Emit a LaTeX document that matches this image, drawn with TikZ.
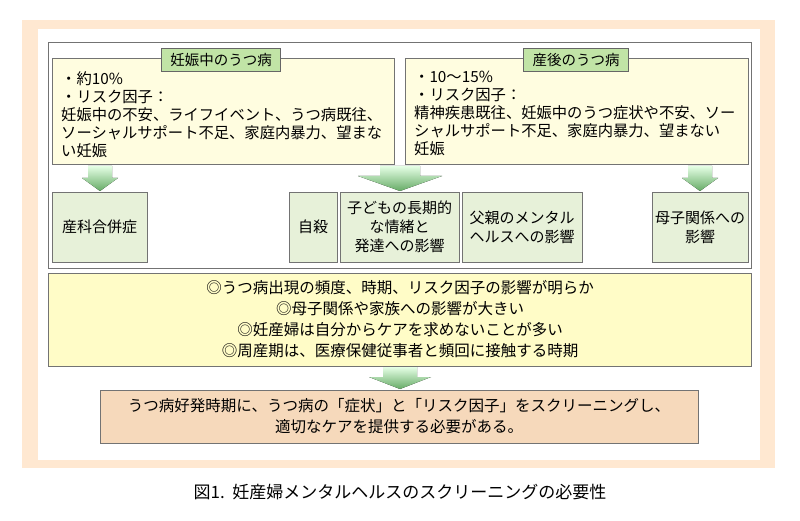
\documentclass[tikz,border=0pt]{standalone}
\usepackage{fontspec}
\setmainfont{Noto Sans CJK JP}
\begin{document}
\begin{tikzpicture}[x=1pt,y=-1pt,
  ylw/.style={draw=black!55,fill=yellow!12,line width=0.7pt},
  grn/.style={draw=black!55,fill=green!25!olive!15!white,line width=0.7pt},
  ttl/.style={draw=black!60,fill=green!40!olive!35!white,line width=0.7pt,font=\fontsize{14.5}{16}\selectfont,inner xsep=9pt,inner ysep=2pt,minimum height=23pt},
  txt/.style={font=\fontsize{15.3}{18}\selectfont,align=left,anchor=north west,inner sep=0pt},
  ctxt/.style={font=\fontsize{15}{19}\selectfont,align=center,inner sep=0pt},
  arr/.style={top color=green!10!white,bottom color=green!45!black!60,draw=none}]
\useasboundingbox (0,0) rectangle (800,521);
\fill[white] (0,0) rectangle (800,521);
\fill[orange!18!white] (22,20) rectangle (775,468);
\fill[white] (38,29) rectangle (760,460);
\draw[black!55,line width=0.7pt] (48,42) rectangle (751,268);
% top yellow boxes
\draw[ylw] (52,58) rectangle (394,164);
\draw[ylw] (405,58) rectangle (748,164);
\node[ttl] (t1) at (221,60) {妊娠中のうつ病};
\node[ttl] (t2) at (576,60) {産後のうつ病};
\node[txt] (l1) at (61,71) {・約10\%\\・リスク因子：\\妊娠中の不安、ライフイベント、うつ病既往、\\ソーシャルサポート不足、家庭内暴力、望まな\\い妊娠};
\node[txt] (r1) at (414,71) {・10〜15\%\\・リスク因子：\\精神疾患既往、妊娠中のうつ症状や不安、ソー\\シャルサポート不足、家庭内暴力、望まない\\妊娠};
% arrows
\fill[arr] (88,166) -- (112,166) -- (112,178) -- (118,178) -- (100,191) -- (82,178) -- (88,178) -- cycle;
\fill[arr] (380,166) -- (420,166) -- (420,176) -- (442,176) -- (400,191) -- (358,176) -- (380,176) -- cycle;
\fill[arr] (688,166) -- (712,166) -- (712,178) -- (718,178) -- (700,191) -- (682,178) -- (688,178) -- cycle;
% green boxes
\draw[grn] (52,192) rectangle (147,262); \node[ctxt] (a) at (99.5,227) {産科合併症};
\draw[grn] (289,192) rectangle (337,262); \node[ctxt] (b) at (313,227) {自殺};
\draw[grn] (340,192) rectangle (459,262); \node[ctxt] (c) at (399.5,227) {子どもの長期的\\な情緒と\\発達への影響};
\draw[grn] (462,192) rectangle (582,262); \node[ctxt] (d) at (522,227) {父親のメンタル\\ヘルスへの影響};
\draw[grn] (652,192) rectangle (748,262); \node[ctxt] (e) at (700,227) {母子関係への\\影響};
% middle
\draw[draw=black!55,fill=yellow!22,line width=0.7pt] (48,273) rectangle (751,366);
\node[ctxt,font=\fontsize{15.5}{21}\selectfont] (m) at (400,319.5) {◎うつ病出現の頻度、時期、リスク因子の影響が明らか\\◎母子関係や家族への影響が大きい\\◎妊産婦は自分からケアを求めないことが多い\\◎周産期は、医療保健従事者と頻回に接触する時期};
\fill[arr] (383,367) -- (417,367) -- (417,377) -- (431,377) -- (400,389) -- (369,377) -- (383,377) -- cycle;
\draw[draw=black!55,fill=orange!55!brown!30!white,line width=0.7pt] (100,390) rectangle (698,443);
\node[ctxt,font=\fontsize{15.5}{21}\selectfont] (s) at (399,416.5) {うつ病好発時期に、うつ病の「症状」と「リスク因子」をスクリーニングし、\\適切なケアを提供する必要がある。};
\node[font=\fontsize{17}{19}\selectfont] (cap) at (400,492) {図1.\ \ 妊産婦メンタルヘルスのスクリーニングの必要性};
\end{tikzpicture}
\end{document}
